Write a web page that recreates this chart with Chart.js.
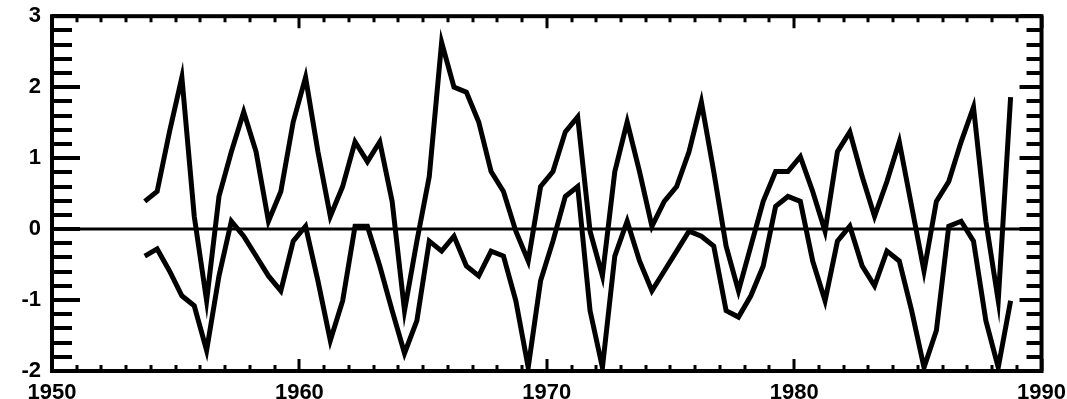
<!DOCTYPE html>
<html>
<head>
<meta charset="utf-8">
<script src="https://cdn.jsdelivr.net/npm/chart.js@4"></script>
<style>
  html, body { margin: 0; padding: 0; background: #fff; }
  #wrap { width: 1067px; height: 399px; }
</style>
</head>
<body>
<div id="wrap"><canvas id="chart"></canvas></div>
<script>
// half-year time steps
const years = [
  1953.75, 1954.25, 1954.75, 1955.25, 1955.75, 1956.25, 1956.75, 1957.25, 1957.75, 1958.25,
  1958.75, 1959.25, 1959.75, 1960.25, 1960.75, 1961.25, 1961.75, 1962.25, 1962.75, 1963.25,
  1963.75, 1964.25, 1964.75, 1965.25, 1965.75, 1966.25, 1966.75, 1967.25, 1967.75, 1968.25,
  1968.75, 1969.25, 1969.75, 1970.25, 1970.75, 1971.25, 1971.75, 1972.25, 1972.75, 1973.25,
  1973.75, 1974.25, 1974.75, 1975.25, 1975.75, 1976.25, 1976.75, 1977.25, 1977.75, 1978.25,
  1978.75, 1979.25, 1979.75, 1980.25, 1980.75, 1981.25, 1981.75, 1982.25, 1982.75, 1983.25,
  1983.75, 1984.25, 1984.75, 1985.25, 1985.75, 1986.25, 1986.75, 1987.25, 1987.75, 1988.25,
  1988.75
];

const upperSeries = [
  0.39, 0.53, 1.37, 2.14, 0.18, -1.01, 0.46, 1.09, 1.65, 1.09,
  0.11, 0.53, 1.51, 2.14, 1.09, 0.18, 0.60, 1.23, 0.95, 1.23,
  0.39, -1.15, -0.17, 0.74, 2.63, 2.00, 1.93, 1.51, 0.81, 0.53,
  -0.03, -0.45, 0.60, 0.81, 1.37, 1.58, -0.03, -0.66, 0.81, 1.51,
  0.81, 0.04, 0.39, 0.60, 1.09, 1.79, 0.81, -0.24, -0.87, -0.24,
  0.39, 0.81, 0.81, 1.02, 0.53, -0.03, 1.09, 1.37, 0.74, 0.18,
  0.67, 1.23, 0.32, -0.59, 0.39, 0.67, 1.23, 1.72, 0.11, -1.01,
  1.86
];

const lowerSeries = [
  -0.38, -0.28, -0.59, -0.94, -1.08, -1.71, -0.66, 0.11, -0.10, -0.38,
  -0.66, -0.87, -0.17, 0.04, -0.73, -1.57, -1.01, 0.04, 0.04, -0.52,
  -1.15, -1.75, -1.29, -0.17, -0.31, -0.10, -0.52, -0.66, -0.31, -0.38,
  -1.01, -1.95, -0.73, -0.17, 0.46, 0.60, -1.15, -1.95, -0.38, 0.11,
  -0.45, -0.87, -0.59, -0.31, -0.03, -0.10, -0.24, -1.15, -1.24, -0.94,
  -0.52, 0.32, 0.46, 0.39, -0.45, -1.01, -0.17, 0.04, -0.52, -0.80,
  -0.31, -0.45, -1.15, -1.95, -1.43, 0.04, 0.11, -0.17, -1.29, -1.95,
  -1.01
];

const xTicks = [1950, 1960, 1970, 1980, 1990];
const yTicks = [-2, -1, 0, 1, 2, 3];

function toPoints(vals) {
  return vals.map((v, i) => ({ x: years[i], y: v }));
}

// frame, inward ticks and zero line
const framePlugin = {
  id: "frame",
  afterDatasetsDraw(chart) {
    const ctx = chart.ctx;
    const a = chart.chartArea;
    const xs = chart.scales.x;
    const ys = chart.scales.y;
    ctx.save();
    ctx.strokeStyle = "#000";

    ctx.lineWidth = 3;
    const y0 = ys.getPixelForValue(0);
    ctx.beginPath();
    ctx.moveTo(a.left, y0);
    ctx.lineTo(a.right, y0);
    ctx.stroke();

    ctx.lineWidth = 4;
    for (let k = 0; k <= 25; k++) {
      const v = -2 + k * 0.2;
      const y = Math.round(ys.getPixelForValue(v));
      const major = k % 5 === 0;
      ctx.beginPath();
      ctx.moveTo(a.left, y);
      ctx.lineTo(a.left + (major ? 28 : 20), y);
      ctx.moveTo(a.right, y);
      ctx.lineTo(a.right - (major ? 22 : 15), y);
      ctx.stroke();
    }
    ctx.lineWidth = 3;
    for (let yr = xTicks[0]; yr <= xTicks[xTicks.length - 1]; yr++) {
      const x = Math.round(xs.getPixelForValue(yr));
      const major = (yr - xTicks[0]) % 10 === 0;
      ctx.beginPath();
      ctx.moveTo(x, a.bottom);
      ctx.lineTo(x, a.bottom - (major ? 12 : 6));
      ctx.moveTo(x, a.top);
      ctx.lineTo(x, a.top + (major ? 12 : 6));
      ctx.stroke();
    }

    ctx.lineWidth = 4;
    ctx.strokeRect(a.left, a.top, a.right - a.left, a.bottom - a.top);
    ctx.restore();
  },
};

const lineStyle = {
  borderColor: "#000",
  borderWidth: 5,
  pointRadius: 0,
  tension: 0,
  borderJoinStyle: "miter",
  fill: false,
};

new Chart(document.getElementById("chart"), {
  type: "line",
  data: {
    datasets: [
      Object.assign({ label: "upper", data: toPoints(upperSeries) }, lineStyle),
      Object.assign({ label: "lower", data: toPoints(lowerSeries) }, lineStyle),
    ],
  },
  options: {
    responsive: true,
    maintainAspectRatio: false,
    animation: false,
    layout: { padding: { top: 13, right: 24, left: 0, bottom: 0 } },
    plugins: { legend: { display: false }, tooltip: { enabled: false } },
    scales: {
      x: {
        type: "linear",
        min: 1950,
        max: 1990,
        grid: { display: false },
        border: { display: false },
        afterBuildTicks: (s) => { s.ticks = xTicks.map((v) => ({ value: v })); },
        afterFit: (s) => { s.height = 28; },
        ticks: {
          color: "#000",
          padding: 1,
          maxRotation: 0,
          font: { family: "Liberation Sans", size: 22, weight: "bold" },
          callback: (v) => String(v),
        },
      },
      y: {
        min: -2,
        max: 3,
        grid: { display: false },
        border: { display: false },
        afterBuildTicks: (s) => { s.ticks = yTicks.map((v) => ({ value: v })); },
        afterFit: (s) => { s.width = 52; },
        ticks: {
          color: "#000",
          padding: 3,
          font: { family: "Liberation Sans", size: 22, weight: "bold" },
        },
      },
    },
  },
  plugins: [framePlugin],
});
</script>
</body>
</html>
